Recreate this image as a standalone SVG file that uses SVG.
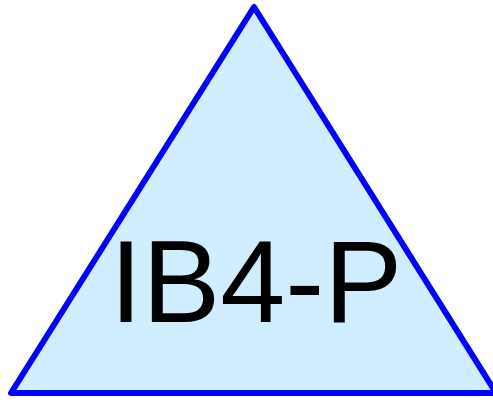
<svg xmlns="http://www.w3.org/2000/svg" width="493" height="400" viewBox="0 0 493 400">
<style>
.shape{fill:#d0eeff;stroke:#0000ff;stroke-width:6;stroke-linejoin:round}
.label{font-family:"Liberation Sans",Arial,sans-serif;font-size:117px;fill:#000000;text-anchor:middle}
</style>
<rect width="493" height="400" fill="#ffffff"/>
<g id="node-IB4-P">
<polygon class="shape" points="254,7 11,393 496,393"/>
<text class="label" x="256" y="321.5">IB4-P</text>
</g>
<g id="connectors"/>
</svg>
